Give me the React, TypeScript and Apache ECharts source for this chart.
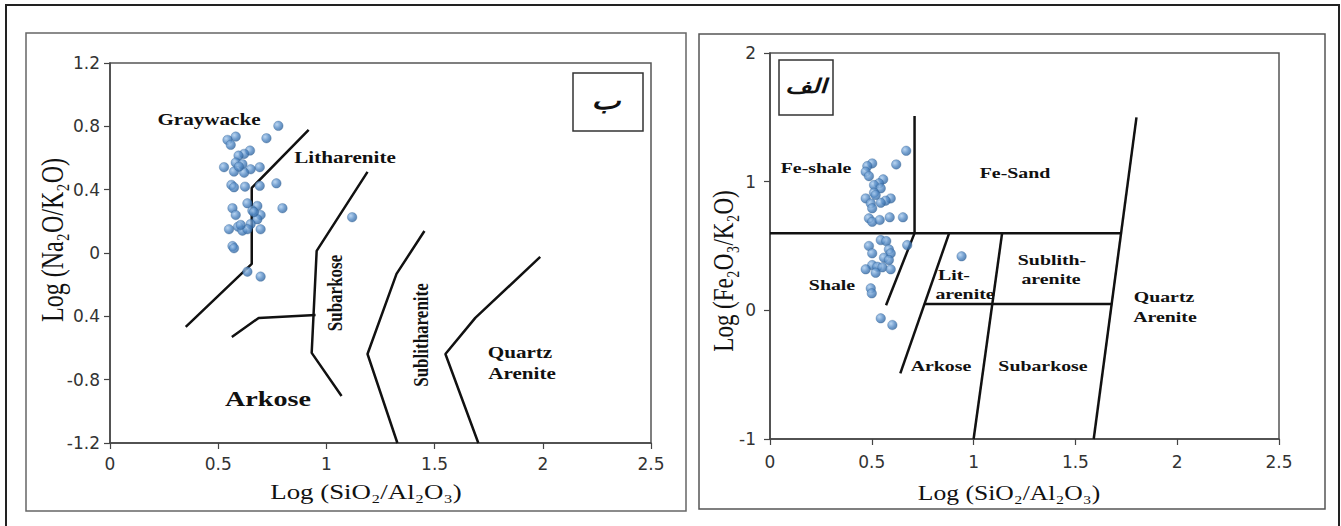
import React, { useEffect, useRef } from "react";
import * as echarts from "echarts";

// ---------- data: left diagram (Log Na2O/K2O vs Log SiO2/Al2O3) ----------
const leftXTicks = ["0", "0.5", "1", "1.5", "2", "2.5"];
const leftYTicks = ["-1.2", "-0.8", "0.4", "0", "0.4", "0.8", "1.2"];
const leftPtsX = [0.778, 0.723, 0.581, 0.543, 0.558, 0.647, 0.62, 0.594, 0.581, 0.527, 0.612, 0.692, 0.65, 0.573, 0.62, 0.561, 0.624, 0.692, 0.769, 0.573, 0.635, 0.566, 0.681, 0.797, 0.658, 0.581, 0.696, 0.681, 0.65, 0.55, 0.592, 0.612, 0.696, 0.635, 0.566, 0.573, 0.635, 0.696, 1.119, 0.596, 0.604, 0.665];
const leftPtsY = [0.803, 0.725, 0.735, 0.714, 0.683, 0.647, 0.626, 0.615, 0.571, 0.542, 0.561, 0.542, 0.529, 0.514, 0.507, 0.43, 0.419, 0.424, 0.44, 0.415, 0.314, 0.283, 0.297, 0.283, 0.268, 0.24, 0.24, 0.213, 0.183, 0.15, 0.166, 0.141, 0.15, 0.15, 0.044, 0.03, -0.118, -0.149, 0.226, 0.545, 0.177, 0.258];
const leftBoundaries: number[][][] = [
  [[0.35, -0.467], [0.655, -0.069], [0.655, 0.411], [0.918, 0.777]],
  [[1.19, 0.512], [0.955, 0.013], [0.932, -0.631], [1.07, -0.903]],
  [[0.563, -0.53], [0.687, -0.41], [0.95, -0.391]],
  [[1.453, 0.139], [1.324, -0.132], [1.19, -0.638], [1.328, -1.2]],
  [[1.988, -0.025], [1.688, -0.41], [1.55, -0.638], [1.702, -1.2]],
];

// ---------- data: right diagram (Log Fe2O3/K2O vs Log SiO2/Al2O3) ----------
const rightXTicks = ["0", "0.5", "1", "1.5", "2", "2.5"];
const rightYTicks = ["-1", "0", "1", "2"];
const rightPtsX = [0.669, 0.502, 0.478, 0.62, 0.47, 0.486, 0.556, 0.535, 0.511, 0.544, 0.511, 0.519, 0.47, 0.593, 0.568, 0.544, 0.495, 0.502, 0.486, 0.502, 0.539, 0.588, 0.653, 0.544, 0.571, 0.486, 0.674, 0.584, 0.502, 0.593, 0.56, 0.584, 0.502, 0.527, 0.47, 0.552, 0.593, 0.519, 0.495, 0.5, 0.544, 0.601, 0.941];
const rightPtsY = [1.24, 1.142, 1.121, 1.134, 1.077, 1.043, 1.018, 0.987, 0.974, 0.948, 0.914, 0.896, 0.87, 0.87, 0.852, 0.836, 0.831, 0.793, 0.715, 0.688, 0.702, 0.723, 0.723, 0.546, 0.538, 0.5, 0.507, 0.474, 0.443, 0.443, 0.409, 0.391, 0.352, 0.339, 0.319, 0.334, 0.319, 0.292, 0.171, 0.132, -0.062, -0.114, 0.42];
const rightBoundaries: number[][][] = [
  [[0.71, 1.51], [0.71, 0.6]],
  [[0, 0.6], [1.72, 0.6]],
  [[1.8, 1.5], [1.59, -1]],
  [[0.71, 0.6], [0.57, 0.04]],
  [[0.88, 0.6], [0.64, -0.49]],
  [[1.14, 0.6], [1.0, -1]],
  [[0.76, 0.05], [1.68, 0.05]],
];

const SERIF = '"Liberation Serif", "Times New Roman", serif';
const SANS = '"DejaVu Sans", sans-serif';
const SX = 1.28;

function dotColor() {
  return new echarts.graphic.RadialGradient(0.35, 0.35, 0.75, [
    { offset: 0, color: "#a9cbee" },
    { offset: 0.55, color: "#4f86c2" },
    { offset: 1, color: "#2c5f97" },
  ]);
}

function label(text: string, x: number, y: number, size: number, opts: any = {}) {
  const rotated = !!opts.rotate;
  return {
    type: "text",
    x,
    y,
    rotation: rotated ? Math.PI / 2 : 0,
    scaleX: rotated ? 1 : SX,
    scaleY: rotated ? SX : 1,
    silent: true,
    z: 10,
    style: {
      text,
      font: `${opts.weight || "bold"} ${size}px ${opts.family || SERIF}`,
      fill: opts.color || "#111",
      align: opts.align || "center",
      verticalAlign: "middle",
      textAlign: opts.align || "center",
      textVerticalAlign: "middle",
    },
  };
}

function rect(x: number, y: number, w: number, h: number, stroke: string, lw: number, fill = "none") {
  return {
    type: "rect",
    silent: true,
    z: 5,
    shape: { x, y, width: w, height: h },
    style: { fill, stroke, lineWidth: lw },
  };
}

const axisCommon = {
  type: "value",
  axisLine: { show: true, onZero: false, lineStyle: { color: "#444", width: 1.5 } },
  axisTick: { show: true, length: 6, lineStyle: { color: "#444", width: 1.2 } },
  splitLine: { show: false },
};

const tickFont = { fontFamily: SANS, fontSize: 17, color: "#333" };

export default function App() {
  const ref = useRef<HTMLDivElement>(null);

  useEffect(() => {
    if (!ref.current) return;
    const chart = echarts.init(ref.current, undefined, { renderer: "svg" });

    const lineSeries = (b: number[][][], gi: number) =>
      b.map((pts) => ({
        type: "line",
        xAxisIndex: gi,
        yAxisIndex: gi,
        data: pts,
        symbol: "none",
        silent: true,
        lineStyle: { color: "#111", width: 2.5 },
        z: 3,
      }));

    const option: any = {
      animation: false,
      backgroundColor: "#fff",
      grid: [
        { left: 110, top: 63, width: 541, height: 380, show: true, borderColor: "#555", borderWidth: 1.5, backgroundColor: "transparent" },
        { left: 770, top: 53, width: 509, height: 386, show: true, borderColor: "#555", borderWidth: 1.5, backgroundColor: "transparent" },
      ],
      xAxis: [
        {
          ...axisCommon,
          gridIndex: 0,
          min: 0,
          max: 2.5,
          interval: 0.5,
          axisLabel: {
            ...tickFont, margin: 12,
            formatter: (v: number) => leftXTicks[Math.round(v / 0.5)] ?? "",
          },
        },
        {
          ...axisCommon,
          gridIndex: 1,
          min: 0,
          max: 2.5,
          interval: 0.5,
          axisLabel: {
            ...tickFont, margin: 14,
            formatter: (v: number) => rightXTicks[Math.round(v / 0.5)] ?? "",
          },
        },
      ],
      yAxis: [
        {
          ...axisCommon,
          gridIndex: 0,
          min: -1.2,
          max: 1.2,
          interval: 0.4,
          axisLabel: {
            ...tickFont, margin: 10,
            formatter: (v: number) => leftYTicks[Math.round((v + 1.2) / 0.4)] ?? "",
          },
        },
        {
          ...axisCommon,
          gridIndex: 1,
          min: -1,
          max: 2,
          interval: 1,
          axisLabel: {
            ...tickFont, margin: 14,
            formatter: (v: number) => rightYTicks[Math.round(v + 1)] ?? "",
          },
        },
      ],
      series: [
        ...lineSeries(leftBoundaries, 0),
        ...lineSeries(rightBoundaries, 1),
        {
          type: "scatter",
          xAxisIndex: 0,
          yAxisIndex: 0,
          data: leftPtsX.map((x, i) => [x, leftPtsY[i]]),
          symbol: "circle",
          symbolSize: 9.5,
          itemStyle: { color: dotColor(), borderColor: "#2f5f92", borderWidth: 0.4 },
          z: 4,
        },
        {
          type: "scatter",
          xAxisIndex: 1,
          yAxisIndex: 1,
          data: rightPtsX.map((x, i) => [x, rightPtsY[i]]),
          symbol: "circle",
          symbolSize: 9.5,
          itemStyle: { color: dotColor(), borderColor: "#2f5f92", borderWidth: 0.4 },
          z: 4,
        },
      ],
      graphic: [
        rect(6, 5, 1333, 524, "#222", 2),
        rect(26, 33, 660, 478, "#666", 1.5),
        rect(699, 34, 626, 475, "#555", 1.5),
        // panel tags
        rect(573, 73, 70, 58, "#333", 1.5, "#fff"),
        label("ب", 606, 100, 24, { family: '"DejaVu Sans", sans-serif', weight: "bold italic" }),
        rect(779, 60, 54, 55, "#333", 1.5, "#fff"),
        label("الف", 806, 86, 20, { family: '"DejaVu Sans", sans-serif', weight: "bold italic" }),
        // axis titles
        label("Log (SiO₂/Al₂O₃)", 366, 492, 21, { weight: "normal" }),
        label("Log (SiO₂/Al₂O₃)", 1009, 493, 20, { weight: "normal" }),
        label("Log (Na₂O/K₂O)", 52, 240, 24, { weight: "normal", rotate: true }),
        label("Log (Fe₂O₃/K₂O)", 723, 271, 23, { weight: "normal", rotate: true }),
        // left region names
        label("Graywacke", 209, 119, 16.5),
        label("Litharenite", 345, 157, 16.5),
        label("Subarkose", 335, 293, 17, { rotate: true }),
        label("Sublitharenite", 421, 335, 17, { rotate: true }),
        label("Quartz", 520, 352, 16.5),
        label("Arenite", 522, 373, 16.5),
        label("Arkose", 268, 398, 22),
        // right region names
        label("Fe-shale", 816, 168, 15.5),
        label("Fe-Sand", 1015, 173, 15.5),
        label("Shale", 832, 285, 15.5),
        label("Lit-", 938, 275, 15.5, { align: "left" }),
        label("arenite", 965, 294, 15.5),
        label("Sublith-", 1052, 260, 15.5),
        label("arenite", 1051, 279, 15.5),
        label("Quartz", 1164, 297, 15.5),
        label("Arenite", 1165, 317, 15.5),
        label("Arkose", 941, 366, 15.5),
        label("Subarkose", 1043, 366, 15.5),
      ],
    };

    chart.setOption(option);
    return () => chart.dispose();
  }, []);

  return (
    <div
      ref={ref}
      style={{ position: "fixed", left: 0, top: 0, width: 1341, height: 526, background: "#fff" }}
    />
  );
}
